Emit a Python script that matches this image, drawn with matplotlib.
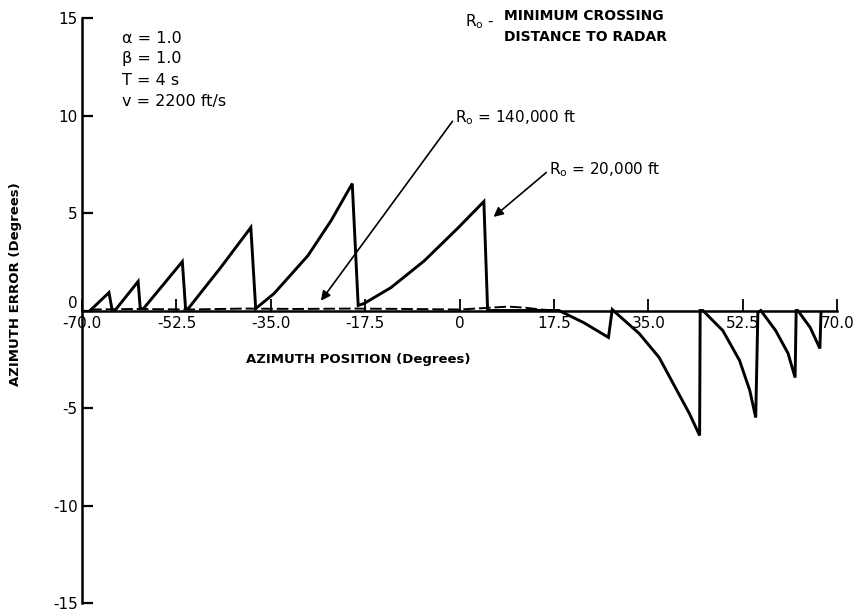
import matplotlib
matplotlib.use("Agg")
import matplotlib.pyplot as plt
import matplotlib.transforms as mtransforms

# ---------------- data ----------------
# R0 = 20,000 ft  (sawtooth azimuth error)
r20_x = [-68.5, -65.0, -64.4, -63.9, -59.6, -59.2, -58.6, -51.4, -50.8,
         -50.3, -44.3, -38.7, -37.8, -34.4, -28.1, -23.8, -19.9, -18.8,
         -17.7, -12.7, -6.5, -0.2, 4.5, 5.2, 18.4, 23.0, 27.6, 28.3,
         28.9, 33.3, 37.0, 40.0, 42.6, 44.5, 44.6,
         45.1, 48.8, 51.9, 53.8, 54.9, 55.3,
         55.85, 58.6, 60.9, 62.2, 62.4,
         62.7, 65.0, 66.8, 67.0]
r20_y = [0.0, 0.92, 0.0, 0.0, 1.49, 0.1, 0.1, 2.51, 0.1,
         0.1, 2.2, 4.26, 0.1, 0.87, 2.82, 4.62, 6.51, 0.26,
         0.36, 1.18, 2.56, 4.26, 5.59, 0.0, 0.0, -0.62, -1.38, 0.05,
         -0.1, -1.18, -2.41, -3.95, -5.28, -6.41, 0.0,
         0.0, -1.03, -2.56, -4.1, -5.49, -0.1,
         0.0, -1.03, -2.2, -3.44, 0.0,
         0.0, -0.87, -1.95, -0.1]

# R0 = 140,000 ft  (nearly zero error)
r140_x = [-68.5, -60, -50, -40, -30, -20, -10, 0, 3, 6, 9, 12, 15, 18]
r140_y = [0.05, 0.08, 0.05, 0.1, 0.08, 0.1, 0.08, 0.05, 0.1, 0.15, 0.2, 0.15, 0.05, 0.0]

x_ticks = [-70, -52.5, -35, -17.5, 0, 17.5, 35, 52.5, 70]
x_tick_labels = ["-70.0", "-52.5", "-35.0", "-17.5", "0", "17.5", "35.0", "52.5", "70.0"]
y_ticks = [-15, -10, -5, 0, 5, 10, 15]
y_tick_labels = ["-15", "-10", "-5", "0", "5", "10", "15"]

params = ["\u03b1 = 1.0", "\u03b2 = 1.0", "T = 4 s", "v = 2200 ft/s"]

# ---------------- figure ----------------
plt.rcParams["font.family"] = ["DejaVu Sans"]
fig = plt.figure(figsize=(8.56, 6.13), dpi=100)
ax = fig.add_axes([0.0958, 0.0163, 0.978 - 0.0958, 0.9706 - 0.0163])

ax.plot(r20_x, r20_y, color="black", lw=2.1, solid_joinstyle="miter")
ax.plot(r140_x, r140_y, color="black", lw=1.4, ls=(0, (6, 2)))

ax.set_xlim(-70, 70)
ax.set_ylim(-15, 15)

for s in ("top", "right"):
    ax.spines[s].set_visible(False)
ax.spines["bottom"].set_position(("data", 0))
ax.spines["left"].set_linewidth(1.8)
ax.spines["bottom"].set_linewidth(1.8)

ax.set_xticks(x_ticks)
ax.set_xticklabels(x_tick_labels)
ax.set_yticks(y_ticks)
ax.set_yticklabels(y_tick_labels)
ax.tick_params(axis="x", direction="in", length=9, width=1.3, pad=4, labelsize=11)
ax.tick_params(axis="y", direction="in", length=8, width=1.6, pad=3, labelsize=11)

# lift the y "0" label slightly so it sits above the "-70.0" x label
for lbl, v in zip(ax.get_yticklabels(), y_ticks):
    if v == 0:
        lbl.set_transform(lbl.get_transform() +
                          mtransforms.ScaledTranslation(0, 6 / 72, fig.dpi_scale_trans))

ax.set_xlabel("AZIMUTH POSITION (Degrees)", fontsize=9.5, fontweight="bold")
ax.xaxis.set_label_coords(0.366, 0.427)
ax.set_ylabel("AZIMUTH ERROR (Degrees)", fontsize=9.5, fontweight="bold")
ax.yaxis.set_label_coords(-0.079, 0.545)

# parameter block
for yv, txt in zip([13.95, 12.9, 11.8, 10.7], params):
    ax.text(-62.6, yv, txt, fontsize=11.5, ha="left", va="center")

# title-like note
ax.text(1.0, 14.8, "R$_\\mathregular{o}$ -", fontsize=11, ha="left", va="center")
ax.text(8.2, 15.1, "MINIMUM CROSSING", fontsize=10, fontweight="bold", ha="left", va="center")
ax.text(8.2, 14.05, "DISTANCE TO RADAR", fontsize=10, fontweight="bold", ha="left", va="center")

# annotations
ax.annotate("R$_\\mathregular{o}$ = 140,000 ft", xy=(-25.7, 0.5), xytext=(-0.8, 9.9),
            fontsize=11, ha="left", va="center",
            arrowprops=dict(arrowstyle="-|>", color="black", lw=1.2,
                            mutation_scale=14, relpos=(0, 0.5), shrinkA=0, shrinkB=0))
ax.annotate("R$_\\mathregular{o}$ = 20,000 ft", xy=(6.3, 4.8), xytext=(16.6, 7.2),
            fontsize=11, ha="left", va="center",
            arrowprops=dict(arrowstyle="-|>", color="black", lw=1.2,
                            mutation_scale=14, relpos=(0, 0.5), shrinkA=0, shrinkB=0))

fig.savefig("out.png", dpi=100)
